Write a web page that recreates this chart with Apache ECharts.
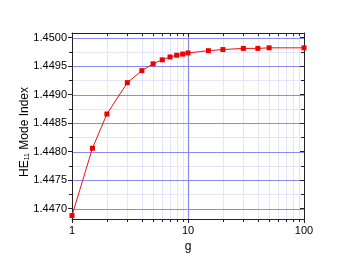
<!DOCTYPE html>
<html><head><meta charset="utf-8">
<script src="https://cdn.jsdelivr.net/npm/echarts@6/dist/echarts.min.js"></script>
<style>html,body{margin:0;padding:0;background:#fff}#c{width:338px;height:261px}</style>
</head><body><div id="c"></div>
<script>
const gValues = [1, 1.5, 2, 3, 4, 5, 6, 7, 8, 9, 10, 15, 20, 30, 40, 50, 100];
const modeIndex = [1.44688, 1.44806, 1.44866, 1.44921, 1.44942, 1.44954, 1.44961, 1.44966, 1.44969, 1.44971, 1.44973, 1.44977, 1.44979, 1.44981, 1.44981, 1.44982, 1.44982];
const yTicks = [1.4470, 1.4475, 1.4480, 1.4485, 1.4490, 1.4495, 1.4500];
const yMinor = [1.44725, 1.44775, 1.44825, 1.44875, 1.44925, 1.44975];
const xTicks = [1, 10, 100];
const xMinor = [2, 3, 4, 5, 6, 7, 8, 9, 20, 30, 40, 50, 60, 70, 80, 90];
const Y_MIN = 1.44682, Y_MAX = 1.45008;

const FONT = 'Liberation Sans, Arial, sans-serif';
const chart = echarts.init(document.getElementById('c'), null, {renderer: 'canvas'});

function gridItem(params, api) {
  const children = [];
  const x0 = api.coord([1, Y_MIN])[0], x1 = api.coord([100, Y_MIN])[0];
  const yb = api.coord([1, Y_MIN])[1], yt = api.coord([1, Y_MAX])[1];
  yMinor.forEach(v => { const y = Math.round(api.coord([1, v])[1]) + 0.5;
    children.push({type:'line', shape:{x1:x0,y1:y,x2:x1,y2:y}, style:{stroke:'#e4e4fa', lineWidth:1}}); });
  xMinor.forEach(v => { const x = Math.round(api.coord([v, Y_MIN])[0]) + 0.5;
    children.push({type:'line', shape:{x1:x,y1:yb,x2:x,y2:yt}, style:{stroke:'#e4e4fa', lineWidth:1}}); });
  yTicks.forEach(v => { const y = Math.round(api.coord([1, v])[1]) + 0.5;
    children.push({type:'line', shape:{x1:x0,y1:y,x2:x1,y2:y}, style:{stroke:'#8a8aee', lineWidth:1.2}}); });
  [10].forEach(v => { const x = Math.round(api.coord([v, Y_MIN])[0]) + 0.5;
    children.push({type:'line', shape:{x1:x,y1:yb,x2:x,y2:yt}, style:{stroke:'#8a8aee', lineWidth:1.2}}); });
  yMinor.forEach(v => { const y = Math.round(api.coord([1, v])[1]) + 0.5;
    children.push({type:'line', shape:{x1:x0-3,y1:y,x2:x0,y2:y}, style:{stroke:'#222', lineWidth:1}});
    children.push({type:'line', shape:{x1:x1-3,y1:y,x2:x1,y2:y}, style:{stroke:'#222', lineWidth:1}}); });
  xMinor.forEach(v => { const x = Math.round(api.coord([v, Y_MIN])[0]) + 0.5;
    children.push({type:'line', shape:{x1:x,y1:yb,x2:x,y2:yb+3}, style:{stroke:'#222', lineWidth:1}});
    children.push({type:'line', shape:{x1:x,y1:yt,x2:x,y2:yt+3}, style:{stroke:'#222', lineWidth:1}}); });
  return {type:'group', children};
}

chart.setOption({
  animation: false,
  backgroundColor: '#fff',
  grid: {left: 72, right: 34, top: 33, bottom: 42},
  xAxis: [{
    type: 'log', logBase: 10, min: 1, max: 100, position: 'bottom',
    axisLine: {show: true, lineStyle: {color: '#222', width: 1}},
    axisTick: {show: true, inside: false, length: 4, lineStyle: {color: '#222'}},
    axisLabel: {fontSize: 11, color: '#000', fontFamily: FONT, margin: 6},
    splitLine: {show: false}, minorTick: {show: false},
    name: 'g', nameLocation: 'middle', nameGap: 19,
    nameTextStyle: {fontSize: 12, color: '#000', fontFamily: FONT}
  }, {
    type: 'log', logBase: 10, min: 1, max: 100, position: 'top',
    axisLine: {show: true, lineStyle: {color: '#222', width: 1}},
    axisTick: {show: true, inside: true, length: 4, lineStyle: {color: '#222'}},
    axisLabel: {show: false}, splitLine: {show: false}
  }],
  yAxis: [{
    type: 'value', min: Y_MIN, max: Y_MAX, position: 'left',
    axisLine: {show: true, lineStyle: {color: '#222', width: 1}},
    axisTick: {show: true, inside: false, length: 4, customValues: yTicks, lineStyle: {color: '#222'}},
    axisLabel: {fontSize: 11, color: '#000', fontFamily: FONT, margin: 5, customValues: yTicks,
      formatter: v => v.toFixed(4)},
    splitLine: {show: false},
    name: 'HE{s|11} Mode Index', nameLocation: 'middle', nameGap: 41, nameMoveOverlap: false,
    nameTextStyle: {fontSize: 12, color: '#000', fontFamily: FONT, padding: [0, 12, 0, 0],
      rich: {s: {fontSize: 7, color: '#000', fontFamily: FONT, verticalAlign: 'bottom', padding: [6, 0, 0, 0]}}}
  }, {
    type: 'value', min: Y_MIN, max: Y_MAX, position: 'right',
    axisLine: {show: true, lineStyle: {color: '#222', width: 1}},
    axisTick: {show: true, inside: true, length: 4, customValues: yTicks, lineStyle: {color: '#222'}},
    axisLabel: {show: false}, splitLine: {show: false}
  }],
  series: [{
    type: 'custom', coordinateSystem: 'cartesian2d', xAxisIndex: 0, yAxisIndex: 0,
    renderItem: gridItem, data: [[1, Y_MIN]], silent: true, z: 0, clip: false
  }, {
    type: 'line', xAxisIndex: 0, yAxisIndex: 0, z: 5,
    data: gValues.map((g, i) => [g, modeIndex[i]]),
    symbol: 'rect', symbolSize: 5, showSymbol: true,
    lineStyle: {color: '#ee1111', width: 1},
    itemStyle: {color: '#ee0000'}
  }]
});
</script></body></html>
